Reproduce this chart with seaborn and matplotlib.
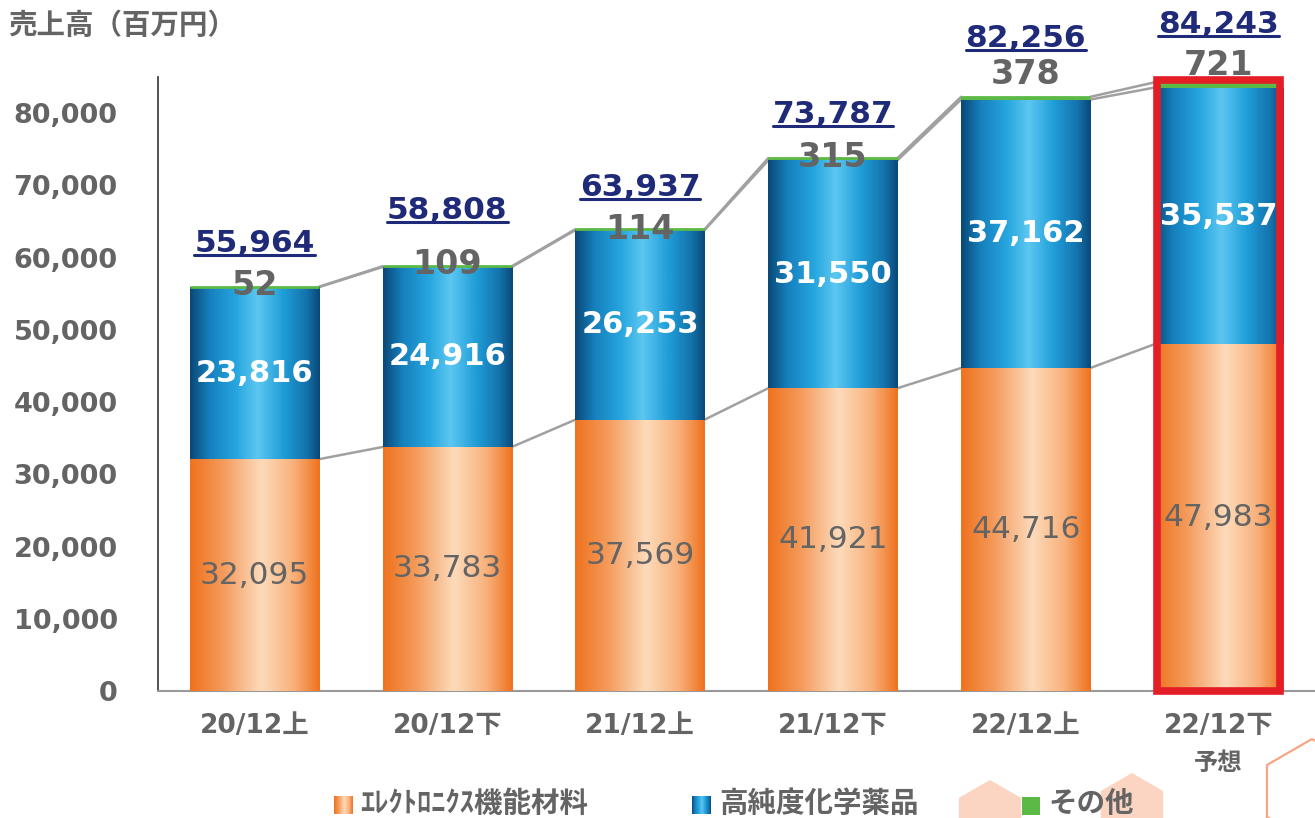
import numpy as np
import pandas as pd
import matplotlib
matplotlib.use("Agg")
import matplotlib.pyplot as plt
import seaborn as sns
from matplotlib.colors import LinearSegmentedColormap
from matplotlib.patches import Rectangle, RegularPolygon
from matplotlib.lines import Line2D
from matplotlib.transforms import IdentityTransform

# data (million yen)
periods = ["20/12上", "20/12下", "21/12上", "21/12下", "22/12上", "22/12下"]
electronics = [32095, 33783, 37569, 41921, 44716, 47983]
chemicals = [23816, 24916, 26253, 31550, 37162, 35537]
others = [52, 109, 114, 315, 378, 721]
totals = [55964, 58808, 63937, 73787, 82256, 84243]
y_ticks = [0, 10000, 20000, 30000, 40000, 50000, 60000, 70000, 80000]
legend_labels = ["ｴﾚｸﾄﾛﾆｸｽ機能材料", "高純度化学薬品", "その他"]

df = pd.DataFrame({"period": periods, "electronics": electronics,
                   "chemicals": chemicals, "others": others, "total": totals})
df["middle"] = df["electronics"] + df["chemicals"]

# label offsets in points (layout only)
total_off = [31, 40, 30, 31, 42, 42]
other_off = [1, 1, 0, 0, 16, 12]

GRAY = "#646464"
NAVY = "#1F2A78"
GREEN = "#5DB946"
JP = ["Noto Sans CJK JP", "DejaVu Sans"]

orange_cmap = LinearSegmentedColormap.from_list("orange", [
    (0.0, "#EF721E"), (0.25, "#F49A5A"), (0.55, "#FDDBBB"),
    (0.8, "#F8B07A"), (1.0, "#EF721E")])
blue_cmap = LinearSegmentedColormap.from_list("blue", [
    (0.0, "#0A4876"), (0.15, "#1680BE"), (0.35, "#25A5DE"),
    (0.52, "#5CC7F1"), (0.72, "#1F9DD7"), (0.9, "#1472AC"), (1.0, "#0A4876")])
grad = np.linspace(0, 1, 256).reshape(1, -1)

sns.set_style("white")
plt.rcParams["font.family"] = ["DejaVu Sans", "Noto Sans CJK JP"]

fig = plt.figure(figsize=(13.15, 8.18), dpi=100)
ax = fig.add_axes([158 / 1315, 127 / 818, 1 - 158 / 1315, 614 / 818])

# stacked bars drawn as overlapping cumulative bars
sns.barplot(data=df, x="period", y="total", color=GREEN, width=0.67,
            saturation=1, errorbar=None, ax=ax, zorder=2, linewidth=0)
top_bars = list(ax.patches)
sns.barplot(data=df, x="period", y="middle", color="#1E9AD6", width=0.67,
            saturation=1, errorbar=None, ax=ax, zorder=3, linewidth=0)
mid_bars = list(ax.patches)[len(top_bars):]
sns.barplot(data=df, x="period", y="electronics", color="#F5A060", width=0.67,
            saturation=1, errorbar=None, ax=ax, zorder=4, linewidth=0)
low_bars = list(ax.patches)[len(top_bars) + len(mid_bars):]


def fill_gradient(patch, cmap, z):
    x0, y0 = patch.get_x(), patch.get_y()
    w, h = patch.get_width(), patch.get_height()
    img = ax.imshow(grad, cmap=cmap, extent=[x0, x0 + w, y0, y0 + h],
                    aspect="auto", zorder=z, interpolation="bicubic")
    img.set_clip_path(patch)


for p in mid_bars:
    fill_gradient(p, blue_cmap, 3.1)
for p in low_bars:
    fill_gradient(p, orange_cmap, 4.1)

# keep the thin "other" segment visible as a top stripe
ax.hlines(df["total"], [p.get_x() for p in top_bars],
          [p.get_x() + p.get_width() for p in top_bars],
          color=GREEN, lw=2, zorder=5)

# connecting lines between bar tops
for level in [df["electronics"], df["middle"], df["total"]]:
    for i in range(len(periods) - 1):
        a, b = top_bars[i], top_bars[i + 1]
        ax.plot([a.get_x() + a.get_width(), b.get_x()],
                [level[i], level[i + 1]], color="#A0A0A0", lw=1.8, zorder=1)

# forecast frame
last = top_bars[-1]
ax.add_patch(Rectangle((last.get_x() + 0.015, 0), last.get_width() - 0.03,
                       totals[-1] + 350, fill=False, edgecolor="#E31E26",
                       lw=5.5, zorder=6, clip_on=False))

# value labels
total_texts = []
for i in range(len(periods)):
    ax.text(i, electronics[i] / 2, f"{electronics[i]:,}", ha="center",
            va="center", color=GRAY, fontsize=22.5, zorder=7)
    ax.text(i, electronics[i] + chemicals[i] / 2, f"{chemicals[i]:,}",
            ha="center", va="center", color="white", fontsize=22,
            fontweight="bold", zorder=7)
    ax.annotate(f"{others[i]:,}", (i, totals[i]), xytext=(0, other_off[i]),
                textcoords="offset points", ha="center", va="center",
                color=GRAY, fontsize=24, fontweight="bold", zorder=7,
                annotation_clip=False)
    t = ax.annotate(f"{totals[i]:,}", (i, totals[i]), xytext=(0, total_off[i]),
                    textcoords="offset points", ha="center", va="center",
                    color=NAVY, fontsize=22.5, fontweight="bold", zorder=7,
                    annotation_clip=False)
    total_texts.append(t)

ax.set_xlim(-0.5, 5.5)
ax.set_ylim(0, 85000)
ax.set_yticks(y_ticks)
ax.set_yticklabels([f"{v:,}" for v in y_ticks])
ax.set_xticks(range(len(periods)))
ax.set_xticklabels(periods)
ax.set_xticks([i + 0.5 for i in range(len(periods) - 1)], minor=True)
ax.set_xlabel("")
ax.set_ylabel("")

ax.tick_params(axis="y", direction="in", length=7, color="#888888",
               labelsize=19.5, labelcolor=GRAY, pad=29)
ax.tick_params(axis="x", which="major", length=0, labelsize=19,
               labelcolor=GRAY, pad=16)
ax.tick_params(axis="x", which="minor", direction="in", length=7,
               color="#888888")
for lbl in ax.get_yticklabels() + ax.get_xticklabels():
    lbl.set_fontweight("bold")

for side in ["top", "right"]:
    ax.spines[side].set_visible(False)
ax.spines["left"].set_color("#333333")
ax.spines["left"].set_linewidth(1.2)
ax.spines["bottom"].set_color("#999999")
ax.spines["bottom"].set_linewidth(1.5)

ax.text(5, -0.118, "予想", transform=ax.get_xaxis_transform(), ha="center",
        va="center", color=GRAY, fontsize=17.5, fontweight="bold", family=JP)

fig.text(8 / 1315, 1 - 26 / 818, "売上高（百万円）", ha="left", va="center",
         color=GRAY, fontsize=20.5, fontweight="bold", family=JP)

# background hexagons
for cx, cy, r in [(990, 816, 36), (1132, 809, 36)]:
    fig.patches.append(RegularPolygon((cx, 818 - cy), 6, radius=r,
                                      transform=IdentityTransform(),
                                      facecolor="#FCD4C2", edgecolor="none",
                                      zorder=0))
fig.patches.append(RegularPolygon((1312, 818 - 791), 6, radius=52,
                                  transform=IdentityTransform(),
                                  facecolor="none", edgecolor="#F7A585",
                                  lw=1.6, zorder=0))

# legend
for x0, cmap in [(334, orange_cmap), (692, blue_cmap)]:
    lax = fig.add_axes([x0 / 1315, (818 - 814) / 818, 18 / 1315, 18 / 818])
    lax.imshow(grad, cmap=cmap, aspect="auto", interpolation="bicubic")
    lax.axis("off")
fig.patches.append(Rectangle((1022 / 1315, (818 - 815) / 818), 18 / 1315,
                             18 / 818, transform=fig.transFigure,
                             facecolor=GREEN, edgecolor="none"))
for x0, label in zip([360, 719, 1048], legend_labels):
    fig.text(x0 / 1315, (818 - 804) / 818, label, ha="left", va="center",
             color=GRAY, fontsize=20.5, fontweight="bold", family=JP)

# underline the totals
fig.canvas.draw()
renderer = fig.canvas.get_renderer()
for t in total_texts:
    bb = t.get_window_extent(renderer)
    fig.add_artist(Line2D([bb.x0, bb.x1], [bb.y0 + 3, bb.y0 + 3],
                          transform=IdentityTransform(), color=NAVY, lw=2.2))

fig.savefig("out.png", dpi=100)
